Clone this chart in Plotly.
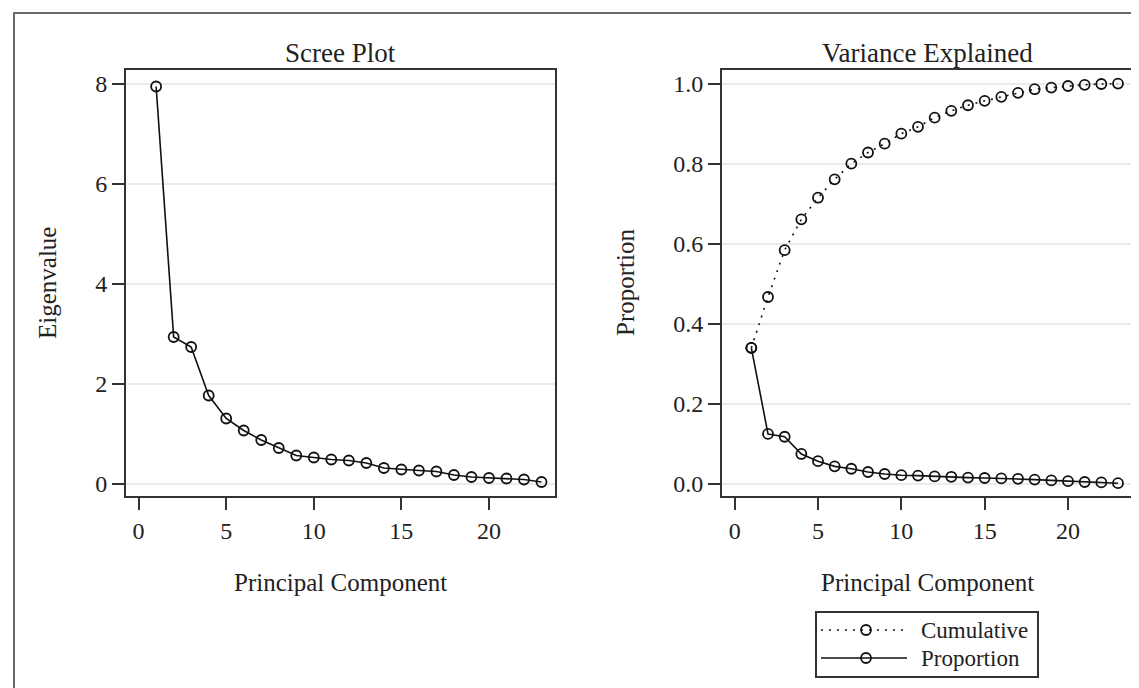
import plotly.graph_objects as go

components = list(range(1, 24))
eigenvalues = [7.95, 2.94, 2.74, 1.77, 1.31, 1.07, 0.88, 0.72, 0.57, 0.53, 0.49, 0.47,
               0.42, 0.32, 0.29, 0.27, 0.25, 0.18, 0.14, 0.12, 0.11, 0.09, 0.04]
proportion = [0.340, 0.125, 0.118, 0.075, 0.057, 0.044, 0.038, 0.030, 0.025, 0.022, 0.021,
              0.019, 0.018, 0.016, 0.015, 0.014, 0.013, 0.011, 0.009, 0.007, 0.005, 0.004, 0.002]
cumulative = [0.340, 0.467, 0.584, 0.661, 0.715, 0.761, 0.800, 0.828, 0.850, 0.875, 0.892,
              0.915, 0.932, 0.946, 0.957, 0.967, 0.977, 0.986, 0.990, 0.994, 0.997, 0.999, 1.000]
legend_labels = ["Cumulative", "Proportion"]
legend_dashes = ["2px,6px", "solid"]

x_ticks = [0, 5, 10, 15, 20]
eig_ticks = [0, 2, 4, 6, 8]
prop_ticks = [0.0, 0.2, 0.4, 0.6, 0.8, 1.0]

W, H = 1139, 688
FONT = "Liberation Serif"
INK = "#222222"
FRAME = "#333333"
GRID = "#ebebeb"
LINE = "#111111"

def px(x):
    return x / W

def py(y):
    return 1 - y / H

fig = go.Figure()

marker_style = dict(symbol="circle-open", size=10, color=LINE, line=dict(width=1.8))

fig.add_trace(go.Scatter(
    x=components, y=eigenvalues, mode="lines+markers", name="Eigenvalue",
    line=dict(color=LINE, width=1.6), marker=marker_style,
    xaxis="x", yaxis="y"))

fig.add_trace(go.Scatter(
    x=components, y=cumulative, mode="lines+markers", name=legend_labels[0],
    line=dict(color=LINE, width=1.6, dash=legend_dashes[0]), marker=marker_style,
    xaxis="x2", yaxis="y2"))

fig.add_trace(go.Scatter(
    x=components, y=proportion, mode="lines+markers", name=legend_labels[1],
    line=dict(color=LINE, width=1.6), marker=marker_style,
    xaxis="x2", yaxis="y2"))

axis_common = dict(
    showline=True, linecolor=FRAME, linewidth=2, mirror=True,
    ticks="outside", ticklen=12, tickwidth=1.5, tickcolor=FRAME,
    tickfont=dict(family=FONT, size=24, color=INK),
    zeroline=False,
)

ydom = [py(488), py(62)]

fig.update_layout(
    width=W, height=H,
    paper_bgcolor="white", plot_bgcolor="white",
    margin=dict(l=0, r=0, t=0, b=0, autoexpand=False),
    font=dict(family=FONT, color=INK),
    showlegend=False,
    xaxis=dict(domain=[px(118), px(547)], range=[-0.72, 23.77], tickvals=x_ticks,
               showgrid=False, anchor="y", **axis_common),
    yaxis=dict(domain=ydom, range=[-0.24, 8.28], tickvals=eig_ticks,
               showgrid=True, gridcolor=GRID, gridwidth=1.5, anchor="x", **axis_common),
    xaxis2=dict(domain=[px(714), px(1125)], range=[-0.76, 23.9], tickvals=x_ticks,
                showgrid=False, anchor="y2", **axis_common),
    yaxis2=dict(domain=ydom, range=[-0.03, 1.034], tickvals=prop_ticks, tickformat=".1f",
                showgrid=True, gridcolor=GRID, gridwidth=1.5, anchor="x2", **axis_common),
)

annotations = [
    dict(text="Scree Plot", x=px(332.5), y=py(45), xanchor="center", yanchor="middle",
         font=dict(family=FONT, size=27, color=INK)),
    dict(text="Variance Explained", x=px(919.5), y=py(45), xanchor="center", yanchor="middle",
         font=dict(family=FONT, size=27, color=INK)),
    dict(text="Principal Component", x=px(332.5), y=py(574), xanchor="center", yanchor="middle",
         font=dict(family=FONT, size=25, color=INK)),
    dict(text="Principal Component", x=px(919.5), y=py(574), xanchor="center", yanchor="middle",
         font=dict(family=FONT, size=25, color=INK)),
    dict(text="Eigenvalue", x=px(40), y=py(275), xanchor="center", yanchor="middle",
         textangle=-90, font=dict(family=FONT, size=25, color=INK)),
    dict(text="Proportion", x=px(618), y=py(275), xanchor="center", yanchor="middle",
         textangle=-90, font=dict(family=FONT, size=25, color=INK)),
]

# legend (drawn as a key box below the right panel)
shapes = [
    dict(type="rect", x0=px(6), x1=1.02, y0=-0.02, y1=py(5),
         line=dict(color="#6a6a6a", width=2), layer="below"),
    dict(type="rect", x0=px(808), x1=px(1030), y0=py(669), y1=py(604),
         line=dict(color=FRAME, width=2)),
]
row_y = [622, 650]
for label, dash, yy in zip(legend_labels, legend_dashes, row_y):
    shapes.append(dict(type="line", x0=px(813), x1=px(899), y0=py(yy), y1=py(yy),
                       line=dict(color=LINE, width=1.6, dash=dash)))
    shapes.append(dict(type="circle", x0=px(853), x1=px(863), y0=py(yy + 5), y1=py(yy - 5),
                       line=dict(color=LINE, width=1.8), fillcolor="rgba(0,0,0,0)"))
    annotations.append(dict(text=label, x=px(911), y=py(yy), xanchor="left", yanchor="middle",
                            font=dict(family=FONT, size=23, color=INK)))

for a in annotations:
    a.update(xref="paper", yref="paper", showarrow=False)
for s in shapes:
    s.update(xref="paper", yref="paper")
    s.setdefault("fillcolor", "rgba(0,0,0,0)")

fig.update_layout(annotations=annotations, shapes=shapes)

fig.write_html("out.html")
